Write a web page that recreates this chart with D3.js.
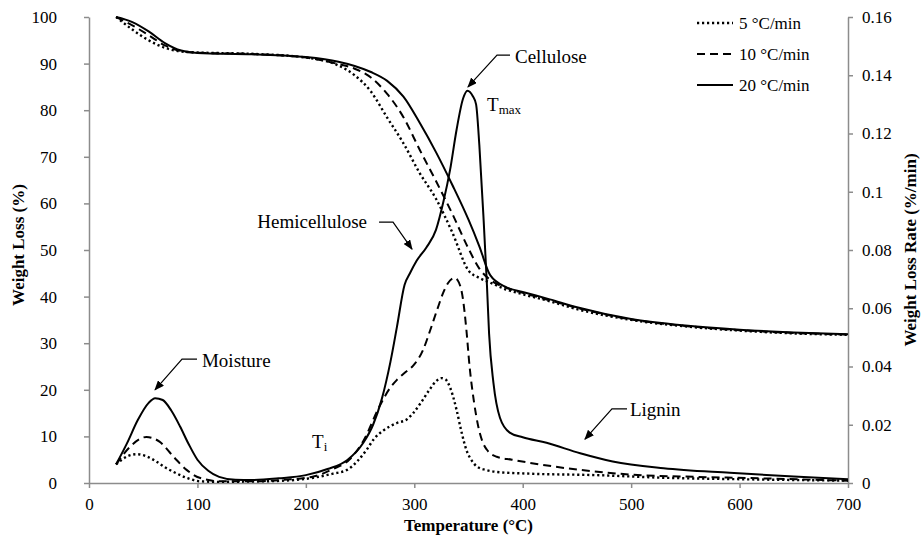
<!DOCTYPE html>
<meta charset="utf-8">
<style>
body { margin: 0; background: #fff; }
text { font-family: "Liberation Serif", "Times New Roman", serif; fill: #000; }
.axis path, .axis line { stroke: #8c8c8c; stroke-width: 1.5; }
.curve { fill: none; stroke: #000; stroke-width: 2; }
.dotted { stroke-dasharray: 2.2 2.8; stroke-width: 2.4; }
.dashed { stroke-dasharray: 8 5; }
.title { font-size: 17px; font-weight: bold; }
.note { font-size: 19px; }
.arrow { fill: none; stroke: #000; stroke-width: 1.2; }
</style>
<body>
<script src="https://cdn.jsdelivr.net/npm/d3@7"></script>
<script>

// TG curves (weight loss, left axis)
var tgTemp = [25, 40, 55, 70, 85, 100, 150, 200, 230, 245, 260, 275, 290, 305, 320, 335, 350, 360, 370, 385, 400, 425, 450, 500, 550, 600, 650, 700];
var tg5  = [100, 97.3, 95.0, 93.4, 92.6, 92.4, 92.1, 91.3, 89.6, 87.5, 84.0, 78.4, 72.9, 66.5, 61.0, 53.8, 45.6, 44.0, 43.0, 41.5, 40.5, 39.0, 37.3, 35.0, 33.6, 32.7, 32.1, 31.8];
var tg10 = [100, 98.2, 96.1, 93.9, 92.7, 92.35, 92.05, 91.3, 89.9, 88.9, 87.0, 83.5, 78.5, 71.5, 64.8, 57.8, 50.3, 46.0, 43.6, 41.9, 40.8, 39.2, 37.6, 35.1, 33.7, 32.8, 32.2, 31.85];
var tg20 = [100, 98.9, 96.9, 94.4, 92.8, 92.3, 92.0, 91.4, 90.4, 89.5, 88.2, 86.3, 82.9, 77.3, 71.0, 64.0, 56.5, 50.8, 44.6, 42.0, 41.0, 39.4, 37.7, 35.2, 33.8, 32.9, 32.3, 31.9];

// DTG curves (weight loss rate, right axis)
var dtg5Temp = [25, 35, 44, 52, 62, 70, 78, 90, 102, 120, 150, 180, 207, 225, 238, 248, 256, 263, 271, 284, 293, 299, 306, 314, 320, 325, 329, 333, 339, 343, 348, 353, 358, 366, 376, 407, 468, 530, 600, 700];
var dtg5 = [0.0064, 0.0091, 0.0099, 0.0093, 0.0074, 0.0054, 0.0038, 0.0018, 0.0006, 0.0004, 0.0005, 0.0008, 0.0018, 0.0032, 0.0045, 0.0077, 0.0114, 0.0152, 0.0179, 0.0206, 0.0218, 0.0240, 0.0275, 0.0320, 0.0349, 0.0360, 0.0355, 0.0328, 0.0251, 0.0184, 0.0114, 0.0077, 0.0056, 0.0045, 0.0038, 0.0032, 0.0027, 0.0018, 0.0013, 0.0008];

var dtg10Temp = [25, 38, 53, 65, 78, 90, 102, 121, 150, 180, 207, 225, 240, 253, 268, 278, 284, 292, 299, 308, 315, 321, 327, 331, 337, 340, 345, 348, 351, 355, 359, 363, 367, 376, 390, 407, 453, 499, 560, 620, 700];
var dtg10 = [0.0064, 0.0125, 0.0158, 0.0142, 0.0090, 0.0045, 0.0018, 0.0006, 0.0006, 0.0011, 0.0022, 0.0048, 0.0080, 0.0144, 0.0264, 0.0328, 0.0354, 0.0381, 0.0403, 0.0456, 0.0528, 0.0594, 0.0656, 0.0686, 0.0704, 0.0696, 0.0629, 0.0528, 0.0400, 0.0280, 0.0194, 0.0141, 0.0114, 0.0090, 0.0080, 0.0069, 0.0045, 0.0029, 0.0021, 0.0016, 0.0008];

var dtg20Temp = [25, 35, 45, 55, 61, 68, 76, 84, 92, 100, 110, 120, 135, 150, 175, 200, 220, 238, 253, 262, 270, 278, 284, 291, 296, 302, 311, 320, 327, 333, 339, 345, 349, 354, 357, 360, 364, 367, 369, 373, 379, 388, 400, 422, 453, 483, 530, 591, 650, 700];
var dtg20 = [0.0064, 0.0136, 0.0216, 0.0275, 0.0291, 0.0285, 0.0248, 0.0194, 0.0133, 0.0080, 0.0042, 0.0021, 0.0011, 0.0010, 0.0016, 0.0027, 0.0048, 0.0078, 0.0138, 0.0200, 0.0288, 0.0416, 0.0536, 0.0680, 0.0720, 0.0762, 0.0808, 0.0869, 0.0968, 0.1075, 0.1213, 0.1320, 0.1347, 0.1328, 0.1300, 0.1160, 0.0900, 0.0680, 0.0512, 0.0344, 0.0224, 0.0173, 0.0157, 0.0138, 0.0102, 0.0074, 0.0051, 0.0035, 0.0022, 0.0013];

// axis ticks
var xTicks = [0, 100, 200, 300, 400, 500, 600, 700];
var yLeftTicks = [0, 10, 20, 30, 40, 50, 60, 70, 80, 90, 100];
var yRightTicks = [0, 0.02, 0.04, 0.06, 0.08, 0.1, 0.12, 0.14, 0.16];

var legendLabels = ["5 \u00B0C/min", "10 \u00B0C/min", "20 \u00B0C/min"];

// annotations, in temperature / weight-loss units
var notes = [
    {text: "Moisture", at: [104.2, 24.9], anchor: "start", arrow: [[99.6, 26.6], [85.8, 26.6], [60.9, 20.0]]},
    {text: "Hemicellulose", at: [256.4, 54.7], anchor: "end", arrow: [[267.5, 56.0], [280.4, 56.0], [297.9, 50.2]]},
    {text: "Cellulose", at: [392.9, 90.1], anchor: "start", arrow: [[388.3, 91.8], [376.3, 91.8], [349.5, 85.0]]},
    {text: "Lignin", at: [498.9, 14.4], anchor: "start", arrow: [[496.2, 15.9], [482.3, 15.9], [457.4, 9.4]]}
];
var subNotes = [
    {main: "T", sub: "i", at: [205.7, 7.5]},
    {main: "T", sub: "max", at: [367.1, 79.8]}
];

var serif = '"Liberation Serif", "Times New Roman", serif';

var margin = {top: 17, right: 74, bottom: 57, left: 89},
    width = 922 - margin.left - margin.right,
    height = 540 - margin.top - margin.bottom;

var x = d3.scaleLinear().domain([0, 700]).range([0, width]);
var yL = d3.scaleLinear().domain([0, 100]).range([height, 0]);
var yR = d3.scaleLinear().domain([0, 0.16]).range([height, 0]);

var svg = d3.select("body").append("svg")
        .attr("width", 922)
        .attr("height", 540)
    .append("g")
        .attr("transform", "translate(" + margin.left + "," + margin.top + ")");

svg.append("defs").append("marker")
    .attr("id", "head")
    .attr("markerUnits", "userSpaceOnUse")
    .attr("markerWidth", 10)
    .attr("markerHeight", 8)
    .attr("refX", 9)
    .attr("refY", 4)
    .attr("orient", "auto")
  .append("path")
    .attr("d", "M0,0 L10,4 L0,8 Z")
    .attr("fill", "#000");

// axes
function styleAxis(g) {
    g.attr("font-family", serif).attr("font-size", 17);
    g.selectAll("text").style("font-family", serif).style("font-size", "17px").attr("fill", "#000");
}

svg.append("g")
    .attr("class", "axis")
    .attr("transform", "translate(0," + height + ")")
    .call(d3.axisBottom(x).tickValues(xTicks).tickSize(5).tickSizeOuter(0).tickPadding(10))
    .call(styleAxis);

svg.append("g")
    .attr("class", "axis")
    .call(d3.axisLeft(yL).tickValues(yLeftTicks).tickSize(5).tickSizeOuter(0).tickPadding(27))
    .call(styleAxis);

svg.append("g")
    .attr("class", "axis")
    .attr("transform", "translate(" + width + ",0)")
    .call(d3.axisRight(yR).tickValues(yRightTicks).tickSize(5).tickSizeOuter(0).tickPadding(9)
        .tickFormat(function(d) { return String(d); }))
    .call(styleAxis);

// curves
function tgLine(vals) {
    return d3.line()
        .x(function(d, i) { return x(tgTemp[i]); })
        .y(function(d) { return yL(d); })
        .curve(d3.curveMonotoneX)(vals);
}
function dtgLine(temps, vals) {
    return d3.line()
        .x(function(d, i) { return x(temps[i]); })
        .y(function(d) { return yR(d); })
        .curve(d3.curveMonotoneX)(vals);
}

var styles = ["curve dotted", "curve dashed", "curve"];

[tg5, tg10, tg20].forEach(function(s, k) {
    svg.append("path").attr("class", styles[k]).attr("d", tgLine(s));
});
[[dtg5Temp, dtg5], [dtg10Temp, dtg10], [dtg20Temp, dtg20]].forEach(function(s, k) {
    svg.append("path").attr("class", styles[k]).attr("d", dtgLine(s[0], s[1]));
});

// annotations
notes.forEach(function(n) {
    svg.append("path")
        .attr("class", "arrow")
        .attr("marker-end", "url(#head)")
        .attr("d", d3.line().x(function(p) { return x(p[0]); }).y(function(p) { return yL(p[1]); })(n.arrow));
    svg.append("text")
        .attr("class", "note")
        .attr("x", x(n.at[0]))
        .attr("y", yL(n.at[1]))
        .attr("text-anchor", n.anchor)
        .text(n.text);
});
subNotes.forEach(function(n) {
    var t = svg.append("text")
        .attr("class", "note")
        .attr("x", x(n.at[0]))
        .attr("y", yL(n.at[1]));
    t.append("tspan").text(n.main);
    t.append("tspan").attr("dy", 3).style("font-size", "13px").text(n.sub);
});

// legend
var legend = svg.append("g").attr("transform", "translate(608,6)");
legendLabels.forEach(function(lab, k) {
    var g = legend.append("g").attr("transform", "translate(0," + (k * 31) + ")");
    g.append("line")
        .attr("class", styles[k])
        .attr("x1", 0).attr("x2", 36)
        .attr("y1", 0).attr("y2", 0);
    g.append("text")
        .attr("x", 42)
        .attr("y", 6)
        .style("font-size", "17px")
        .text(lab);
});

// axis titles
svg.append("text")
    .attr("class", "title")
    .attr("x", width / 2)
    .attr("y", height + 48)
    .attr("text-anchor", "middle")
    .text("Temperature (\u00B0C)");

svg.append("text")
    .attr("class", "title")
    .attr("transform", "translate(" + (24 - margin.left) + "," + (height / 2 - 5) + ") rotate(-90)")
    .attr("text-anchor", "middle")
    .text("Weight Loss (%)");

svg.append("text")
    .attr("class", "title")
    .attr("transform", "translate(" + (width + 68) + "," + (height / 2) + ") rotate(-90)")
    .attr("text-anchor", "middle")
    .text("Weight Loss Rate (%/min)");

</script>
</body>
